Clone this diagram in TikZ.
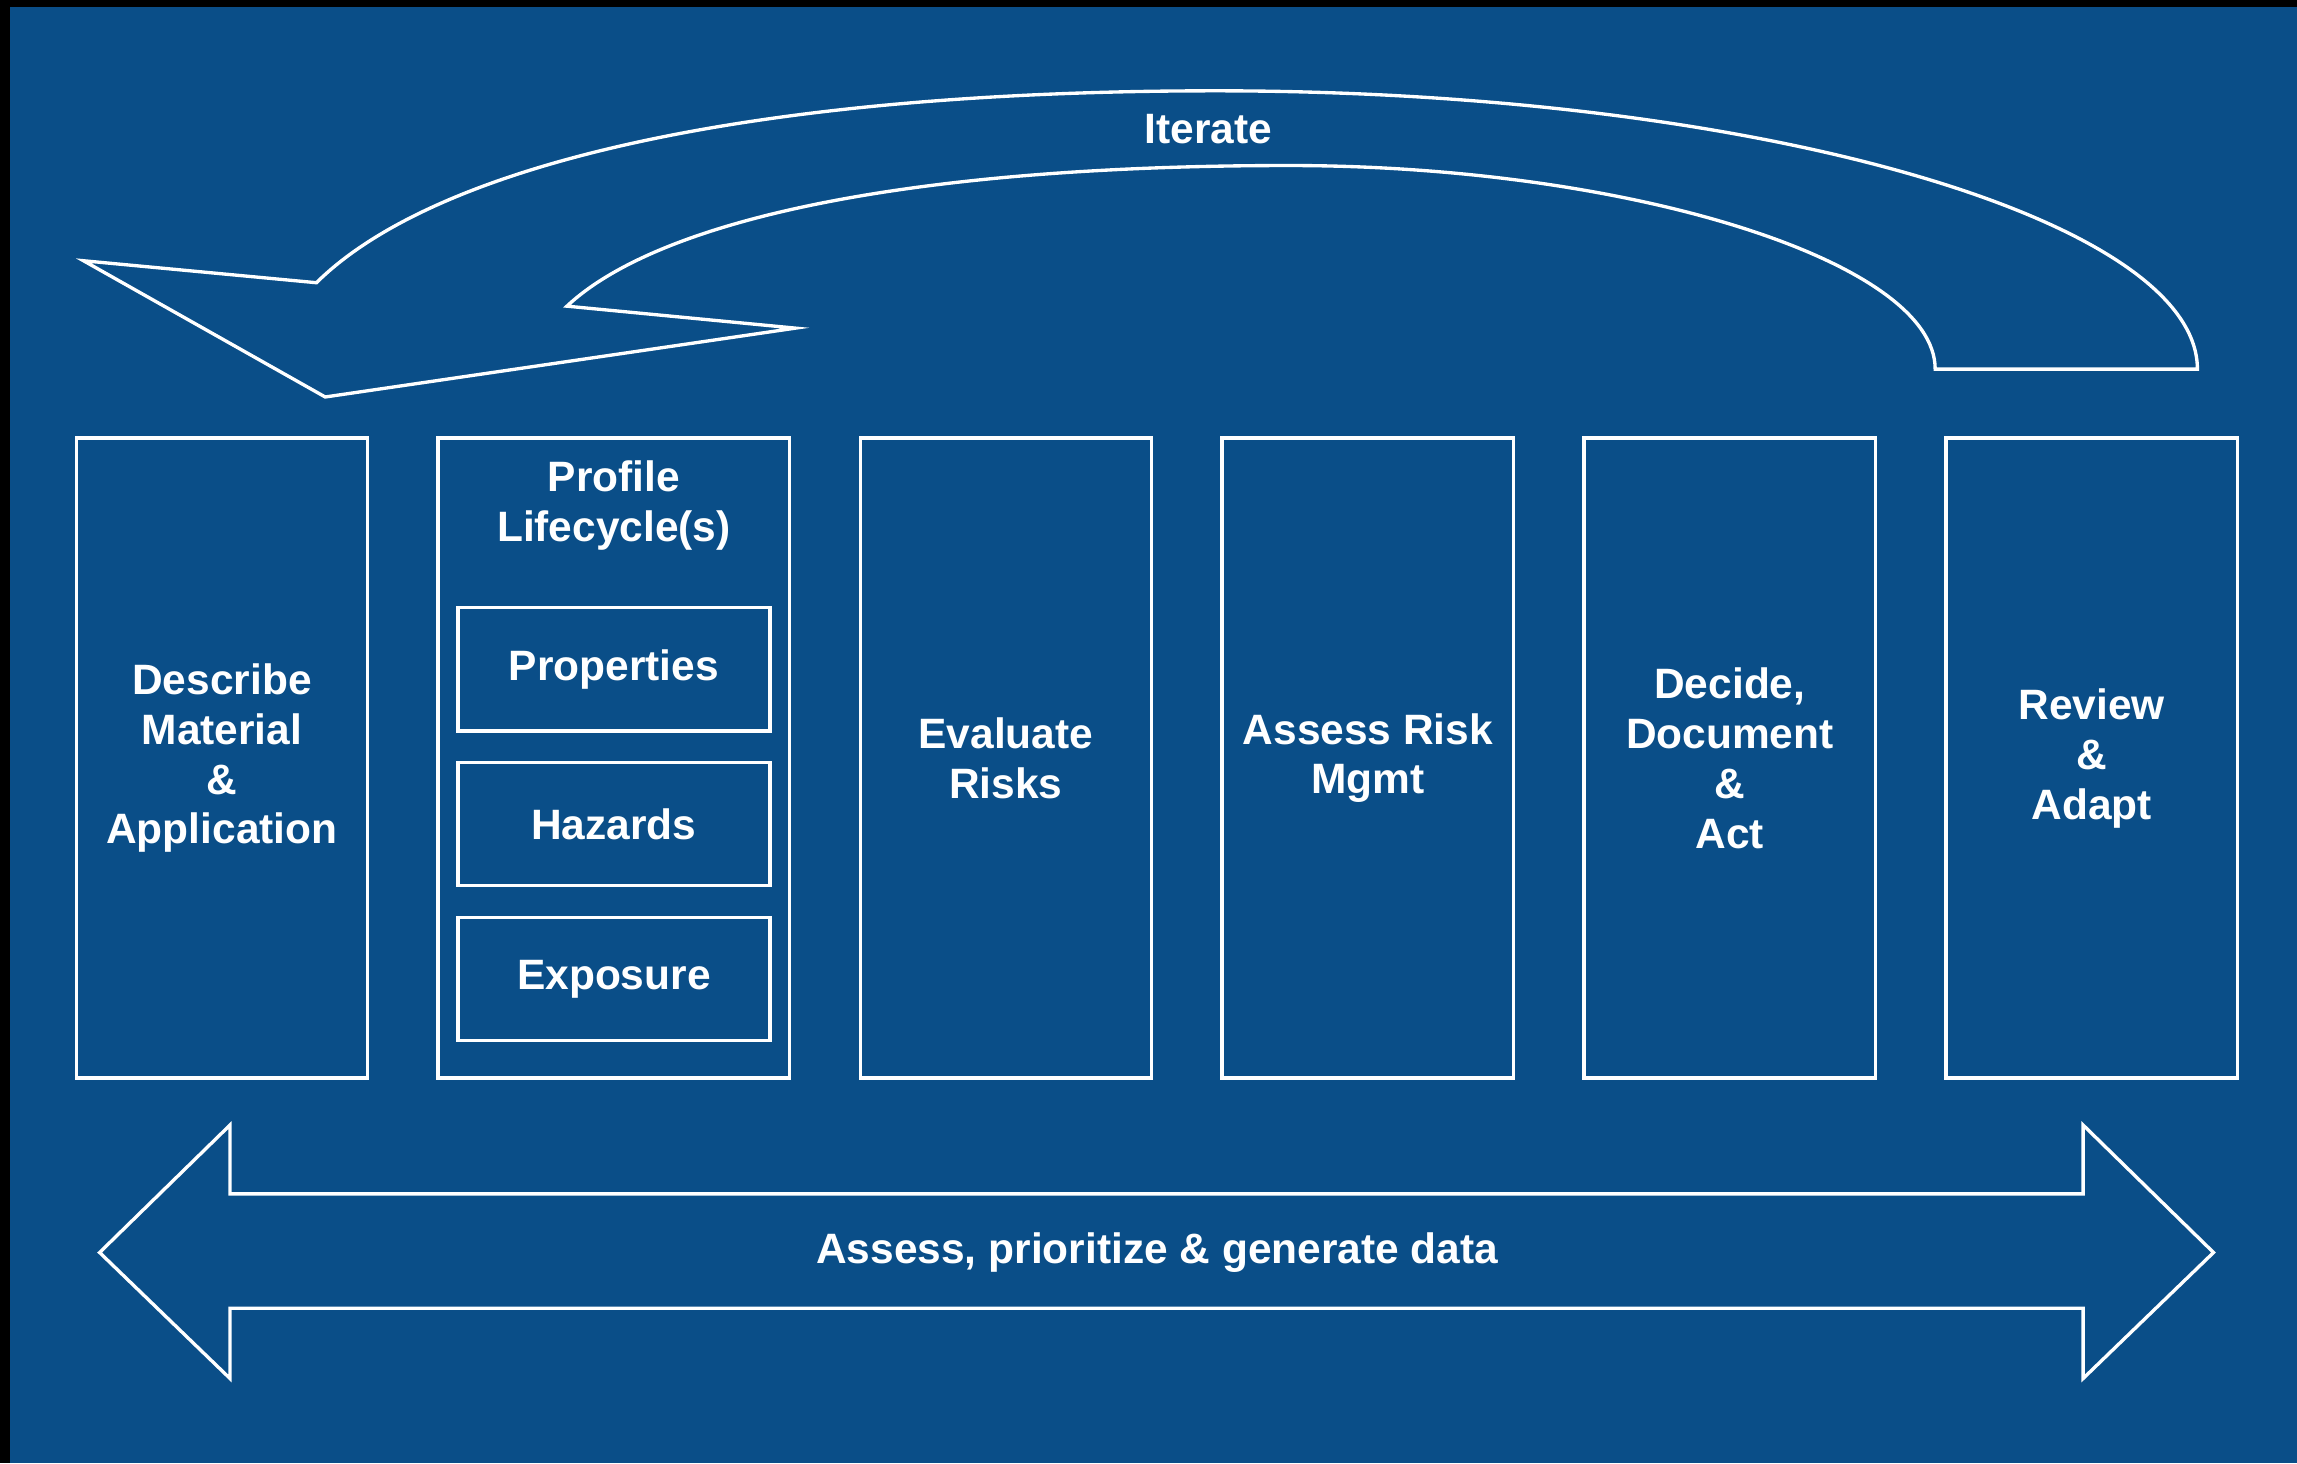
\documentclass[tikz,border=0pt]{standalone}
\usepackage{fontspec}
\setmainfont{Liberation Sans}
\usetikzlibrary{calc}
\usetikzlibrary{positioning}
\definecolor{bgblue}{RGB}{10,78,136}

\begin{document}
\begin{tikzpicture}[
      x=0.02cm, y=-0.02cm,
      font=\fontsize{16.5}{19.4}\selectfont\bfseries,
      stage/.style ={rectangle, draw=white, line width=1.3pt, text=white, align=center, minimum width=3.98cm, minimum height=8.74cm, inner sep=0pt},
      subbox/.style ={rectangle, draw=white, line width=1.3pt, text=white, minimum width=4.26cm, minimum height=1.68cm},
      outline/.style={draw=white, line width=1.3pt, line join=miter},
      caption/.style={text=white, align=center, inner sep=0pt},
      node distance=0.917cm
    ]
    \useasboundingbox (0,0) rectangle (1568,999);
    \fill [black] (0,0) rectangle (1568,999);
    \fill [bgblue] (7,5) rectangle (1568,999);

    \node [stage] (describe) at (151.5,517.5) {Describe\\Material\\\&\\Application} ;
    \node [stage, minimum width=4.8cm] (profile) [right=of describe] {} ;
    \node [stage] (evaluate) [right=of profile] {Evaluate\\Risks} ;
    \node [stage] (assess) [right=of evaluate] {Assess Risk\\Mgmt} ;
    \node [stage] (decide) [right=of assess] {Decide,\\Document\\\&\\Act} ;
    \node [stage] (review) [right=of decide] {Review\\\&\\Adapt} ;

    \node [caption] (lifecycle) at ($(profile.north)+(0,47)$) {Profile\\Lifecycle(s)} ;
    \node [subbox] (properties) at ($(profile.north)+(0,159)$) {Properties} ;
    \node [subbox] (hazards) [below=0.39cm of properties] {Hazards} ;
    \node [subbox] (exposure) [below=0.39cm of hazards] {Exposure} ;

    \draw [outline] (1500,252) .. controls (1500,150) and (1200,62) .. (830,62)
      .. controls (520,62) and (300,110) .. (216,193) -- (57,178) -- (222,271)
      -- (543,224) -- (387,209) .. controls (450,150) and (620,113) .. (880,113)
      .. controls (1110,113) and (1321,178) .. (1321,252) -- cycle ;
    \node [caption] (iterate) at (825,88) {Iterate} ;

    \draw [outline] (68,855) -- (157,768) -- (157,815) -- (1422,815) -- (1422,768)
      -- (1511,855) -- (1422,941) -- (1422,893) -- (157,893) -- (157,941) -- cycle ;
    \node [caption] (data) at (790,855) {Assess, prioritize \& generate data} ;
  \end{tikzpicture}
\end{document}
